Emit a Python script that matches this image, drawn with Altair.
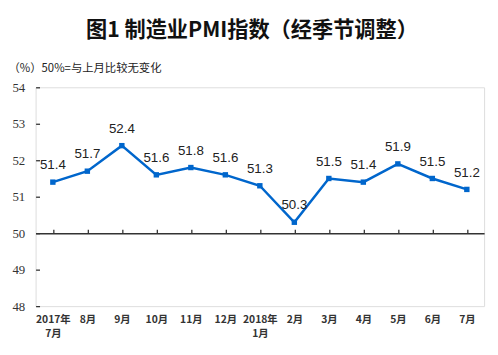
import altair as alt
import pandas as pd

months = ["2017年\n7月", "8月", "9月", "10月", "11月", "12月", "2018年\n1月",
          "2月", "3月", "4月", "5月", "6月", "7月"]
pmi = [51.4, 51.7, 52.4, 51.6, 51.8, 51.6, 51.3, 50.3, 51.5, 51.4, 51.9, 51.5, 51.2]
y_ticks = [48, 49, 50, 51, 52, 53, 54]

df = pd.DataFrame({"month": months, "pmi": pmi})

W, H = 455, 222
LINE = "#0066CC"
xscale = alt.Scale(paddingInner=0, paddingOuter=0)
yscale = alt.Scale(domain=[48, 54], nice=False, zero=False)

x_bottom = alt.X("month:N", sort=months, scale=xscale,
                 axis=alt.Axis(orient="bottom", title=None, domain=False, ticks=False,
                               labelAngle=0, labelPadding=9, labelFont="Noto Sans CJK SC",
                               labelFontSize=10.5, labelFontWeight="bold", labelColor="#333",
                               labelLineHeight=14, labelOverlap=False,
                               labelExpr="split(datum.label, '\\n')"))
x_mid = alt.X("month:N", sort=months, scale=xscale,
              axis=alt.Axis(orient="top", title=None, labels=False, domain=True,
                            domainColor="#333", domainWidth=1.5, ticks=True, tickSize=4,
                            tickColor="#333", tickWidth=1.3, bandPosition=0,
                            offset=-(H * 4 / 6)))

y = alt.Y("pmi:Q", scale=yscale,
          axis=alt.Axis(values=y_ticks, title="（%）50%=与上月比较无变化",
                        titleAngle=0, titleAlign="left", titleBaseline="middle",
                        titleX=-32, titleY=-19,
                        titleFont="Noto Sans CJK SC", titleFontSize=11.5,
                        titleFontWeight="normal", titleColor="#222",
                        grid=False, domain=False, ticks=True, tickSize=4, tickColor="#333",
                        tickWidth=1.3, offset=-4, labelPadding=11, labelOverlap=False,
                        labelFont="Liberation Serif", labelFontSize=13, labelColor="#333"))

base = alt.Chart(df)
line = base.mark_line(color=LINE, strokeWidth=2.5).encode(x=x_bottom, y=y)
pts = base.mark_square(color=LINE, size=30, opacity=1).encode(
    x=x_mid, y=alt.Y("pmi:Q", scale=yscale, axis=None))
labels = base.mark_text(font="Liberation Sans", fontSize=13.5, color="#222",
                        baseline="middle", dy=-17).encode(
    x=alt.X("month:N", sort=months, scale=xscale, axis=None),
    y=alt.Y("pmi:Q", scale=yscale, axis=None),
    text=alt.Text("pmi:Q", format=".1f"))

chart = alt.layer(line, pts, labels).resolve_axis(x="independent", y="independent").properties(
    width=W, height=H,
    autosize=alt.AutoSizeParams(type="none"),
    padding={"left": 28, "top": 78, "right": 6, "bottom": 38},
    title=alt.TitleParams("图1 制造业PMI指数（经季节调整）", anchor="middle", dx=-8,
                          offset=22, font="Noto Sans CJK SC", fontSize=21.5,
                          fontWeight="bold", color="#111"),
).configure_view(stroke="#222", strokeWidth=1.6).configure(background="white")

chart.save("out.html", embed_options={"renderer": "svg", "actions": False})
